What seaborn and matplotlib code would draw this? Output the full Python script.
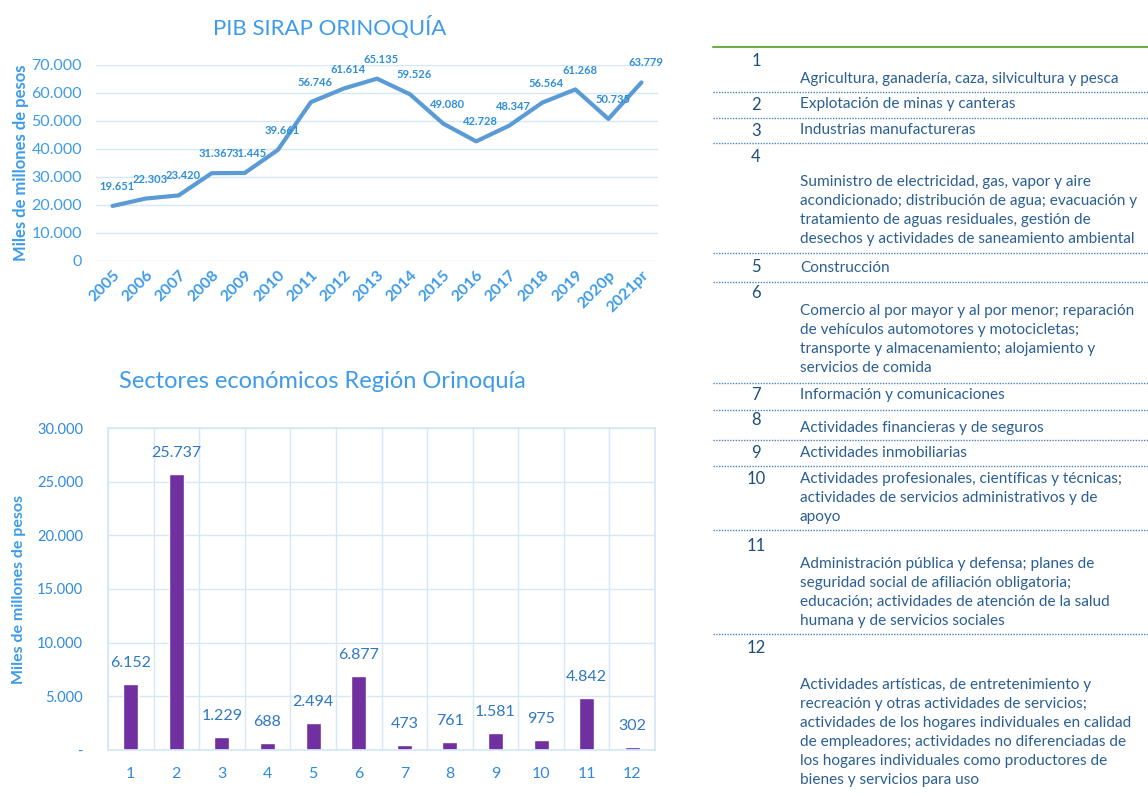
"""
PIB SIRAP Orinoquía: serie anual, sectores económicos y tabla de sectores.
"""
import matplotlib
matplotlib.use("Agg")
import matplotlib.pyplot as plt
import seaborn as sns
import numpy as np
import pandas as pd
from matplotlib.ticker import FuncFormatter

# Datos
anios = ["2005", "2006", "2007", "2008", "2009", "2010", "2011", "2012", "2013",
         "2014", "2015", "2016", "2017", "2018", "2019", "2020p", "2021pr"]
pib = [19651, 22303, 23420, 31367, 31445, 39661, 56746, 61614, 65135,
       59526, 49080, 42728, 48347, 56564, 61268, 50735, 63779]

sectores = ["1", "2", "3", "4", "5", "6", "7", "8", "9", "10", "11", "12"]
valores_sector = [6152, 25737, 1229, 688, 2494, 6877, 473, 761, 1581, 975, 4842, 302]

descripciones = [
    "Agricultura, ganadería, caza, silvicultura y pesca",
    "Explotación de minas y canteras",
    "Industrias manufactureras",
    "Suministro de electricidad, gas, vapor y aire\nacondicionado; distribución de agua; evacuación y\n"
    "tratamiento de aguas residuales, gestión de\ndesechos y actividades de saneamiento ambiental",
    "Construcción",
    "Comercio al por mayor y al por menor; reparación\nde vehículos automotores y motocicletas;\n"
    "transporte y almacenamiento; alojamiento y\nservicios de comida",
    "Información y comunicaciones",
    "Actividades financieras y de seguros",
    "Actividades inmobiliarias",
    "Actividades profesionales, científicas y técnicas;\nactividades de servicios administrativos y de\napoyo",
    "Administración pública y defensa; planes de\nseguridad social de afiliación obligatoria;\n"
    "educación; actividades de atención de la salud\nhumana y de servicios sociales",
    "Actividades artísticas, de entretenimiento y\nrecreación y otras actividades de servicios;\n"
    "actividades de los hogares individuales en calidad\nde empleadores; actividades no diferenciadas de\n"
    "los hogares individuales como productores de\nbienes y servicios para uso",
]

# Layout de la tabla (px desde arriba): número, primera línea de texto, separador
fila_num_y = [61, 105, 131, 157, 267, 293, 395, 420, 453, 479, 546, 648]
fila_txt_y = [81, 106, 132, 184, 270, 313, 397, 430, 455, 481, 566, 687]
fila_sep_y = [92, 118, 143, 253, 282, 383, 410, 440, 466, 530, 634, None]

AZUL = "#3d9be9"
AZUL_LINEA = "#5b9bd5"
GRID = "#d6e7f7"
MORADO = "#7030a0"
AZUL_TABLA = "#2b5f93"

sns.set_theme(style="white")
plt.rcParams["font.family"] = ["Lato", "DejaVu Sans"]

W, H = 1148, 796
fig = plt.figure(figsize=(W / 100, H / 100), dpi=100)


def fmt_miles(v, pos=None):
    return f"{int(round(v)):,}".replace(",", ".")


# --- Gráfico de línea ---
ax1 = fig.add_axes([96 / W, 1 - 261 / H, 562 / W, 196 / H])
df_pib = pd.DataFrame({"anio": anios, "pib": pib})
sns.lineplot(data=df_pib, x="anio", y="pib", ax=ax1, color=AZUL_LINEA,
             linewidth=3, sort=False)
ax1.set_ylim(0, 70000)
ax1.set_xlim(-0.5, len(anios) - 0.5)
ax1.set_yticks(np.arange(0, 70001, 10000))
ax1.yaxis.set_major_formatter(FuncFormatter(fmt_miles))
ax1.grid(axis="y", color=GRID, linewidth=1)
for s in ax1.spines.values():
    s.set_visible(False)
ax1.tick_params(axis="y", colors=AZUL, labelsize=11.5, length=0, pad=10)
ax1.tick_params(axis="x", colors=AZUL, labelsize=11.5, length=0, pad=5)
for lbl in ax1.get_xticklabels():
    lbl.set_rotation(45)
    lbl.set_ha("right")
    lbl.set_rotation_mode("anchor")
    lbl.set_fontweight("bold")
ax1.set_xlabel("")
ax1.set_ylabel("Miles de millones de pesos", color=AZUL, fontsize=12,
               fontweight="bold", labelpad=2)
for i, v in enumerate(pib):
    ax1.annotate(fmt_miles(v), (i, v), xytext=(3, 14), textcoords="offset points",
                 ha="center", va="center", fontsize=8, color="#2f8fd8",
                 fontweight="bold", annotation_clip=False)
fig.text(330 / W, 1 - 27 / H, "PIB SIRAP ORINOQUÍA", ha="center", va="center",
         fontsize=16, color=AZUL)

# --- Gráfico de barras ---
ax2 = fig.add_axes([108 / W, 1 - 750 / H, 547 / W, 322 / H])
df_sec = pd.DataFrame({"sector": sectores, "valor": valores_sector})
sns.barplot(data=df_sec, x="sector", y="valor", ax=ax2, color=MORADO,
            width=0.33, saturation=1)
ax2.set_ylim(0, 30000)
ax2.set_xlim(-0.5, len(sectores) - 0.5)
ax2.set_yticks(np.arange(0, 30001, 5000))
ax2.yaxis.set_major_formatter(FuncFormatter(lambda v, p: "-" if v == 0 else fmt_miles(v)))
ax2.set_xticks(np.arange(-0.5, len(sectores), 1), minor=True)
ax2.grid(axis="y", which="major", color=GRID, linewidth=1)
ax2.grid(axis="x", which="minor", color=GRID, linewidth=1)
ax2.set_axisbelow(True)
for s in ax2.spines.values():
    s.set_color(GRID)
ax2.tick_params(axis="both", which="both", length=0)
ax2.tick_params(axis="y", colors="#2e8ae0", labelsize=10.5, pad=18)
ax2.tick_params(axis="x", colors="#2e8ae0", labelsize=11.5, pad=12)
ax2.set_xlabel("")
ax2.set_ylabel("Miles de millones de pesos", color=AZUL, fontsize=11.5,
               fontweight="bold", labelpad=8)
for i, v in enumerate(valores_sector):
    ax2.annotate(fmt_miles(v), (i, v), xytext=(0, 15), textcoords="offset points",
                 ha="center", va="center", fontsize=11.5, color="#2e78c4")
fig.text(322 / W, 1 - 382 / H, "Sectores económicos Región Orinoquía", ha="center",
         va="center", fontsize=17, color=AZUL)

# --- Tabla de sectores ---
fig.add_artist(plt.Line2D([713 / W, 1], [1 - 47 / H] * 2, color="#70ad47",
                          linewidth=1.5, transform=fig.transFigure))
for num, desc, ny, ty, sy in zip(sectores, descripciones, fila_num_y, fila_txt_y, fila_sep_y):
    fig.text(756 / W, 1 - ny / H, num, ha="center", va="center", fontsize=12,
             color="#1f4e79")
    fig.text(800 / W, 1 - (ty - 9) / H, desc, ha="left", va="top", fontsize=11.1,
             color=AZUL_TABLA, linespacing=1.46)
    if sy is not None:
        fig.add_artist(plt.Line2D([713 / W, 1], [1 - sy / H] * 2, color="#4f81bd",
                                  linewidth=1, linestyle=(0, (1, 1)),
                                  transform=fig.transFigure))

fig.savefig("out.png", dpi=100)
